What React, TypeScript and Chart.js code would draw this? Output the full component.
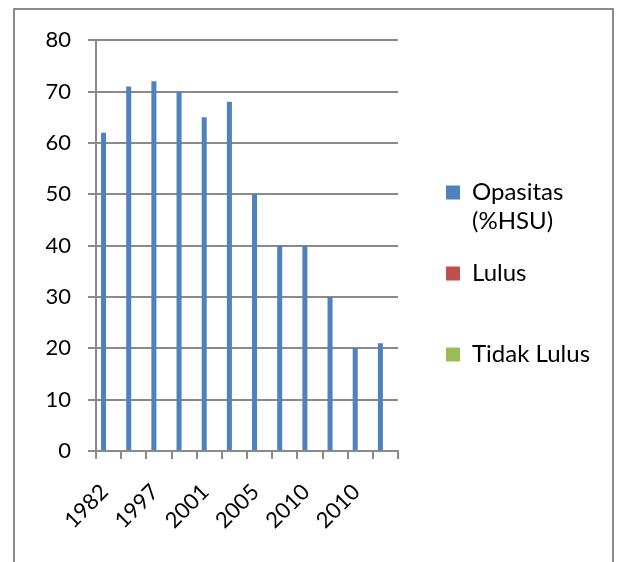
import React, { useEffect, useRef } from 'react';
import { Chart, registerables } from 'chart.js';

Chart.register(...registerables);

// ---- data ----
const years = ['1982', '', '1997', '', '2001', '', '2005', '', '2010', '', '2010', ''];
const opasitas = [62, 71, 72, 70, 65, 68, 50, 40, 40, 30, 20, 21];
const lulus: (number | null)[] = [];
const tidakLulus: (number | null)[] = [];
const seriesNames = ['Opasitas (%HSU)', 'Lulus', 'Tidak Lulus'];
const legendLines = [['Opasitas', '(%HSU)'], ['Lulus', ''], ['Tidak Lulus', '']];
const yMin = 0;
const yMax = 80;
const yStep = 10;

// ---- style ----
const FONT = 'Lato';
const GRID = '#8a8a8a';
const GRID_W = 2;
const COLORS = ['#4F81BD', '#C0504D', '#9BBB59'];
const CANVAS_W = 597;
const CANVAS_H = 552;
const TICK_SIZE = 22;
const LEG_SIZE = 24;
const LEG_PAD = 23;
const LEG_BOX = 14;
const LEG_LEFT = 408;

export default function App() {
  const ref = useRef<HTMLCanvasElement | null>(null);

  useEffect(() => {
    const canvas = ref.current;
    if (!canvas) return;
    const mctx = document.createElement('canvas').getContext('2d')!;
    mctx.font = `${LEG_SIZE}px ${FONT}`;
    const tw = mctx.measureText('Tidak Lulus').width;
    const legendW = LEG_PAD + LEG_BOX + LEG_SIZE / 2 + tw + 10;
    const padRight = Math.max(0, CANVAS_W - LEG_LEFT - legendW);

    const chart = new Chart(canvas, {
      type: 'bar',
      data: {
        labels: years,
        datasets: [
          { label: seriesNames[0], data: opasitas, backgroundColor: COLORS[0], borderWidth: 0 },
          { label: seriesNames[1], data: lulus, backgroundColor: COLORS[1], borderWidth: 0 },
          { label: seriesNames[2], data: tidakLulus, backgroundColor: COLORS[2], borderWidth: 0 },
        ],
      },
      options: {
        responsive: false,
        animation: false,
        events: [],
        datasets: { bar: { categoryPercentage: 0.6, barPercentage: 1.0 } },
        layout: { padding: { left: 0, top: 27, right: padRight, bottom: 18 } },
        plugins: {
          tooltip: { enabled: false },
          title: { display: false },
          legend: {
            position: 'right',
            align: 'center',
            maxWidth: 1000,
            labels: {
              color: '#000',
              font: { family: FONT, size: LEG_SIZE, lineHeight: 29 / LEG_SIZE },
              boxWidth: LEG_BOX,
              boxHeight: LEG_BOX,
              padding: LEG_PAD,
              generateLabels: (c: any) =>
                Chart.defaults.plugins.legend.labels
                  .generateLabels(c)
                  .map((it: any, i: number) => ({ ...it, text: legendLines[i], lineWidth: 0 })),
            },
          },
        },
        scales: {
          x: {
            grid: {
              offset: true,
              drawOnChartArea: false,
              drawTicks: true,
              tickLength: 8,
              color: GRID,
              lineWidth: GRID_W,
            },
            border: { display: true, color: GRID, width: GRID_W },
            ticks: {
              autoSkip: false,
              maxRotation: 45,
              minRotation: 45,
              padding: 20,
              labelOffset: -4,
              color: '#000',
              font: { family: FONT, size: TICK_SIZE },
            },
            afterFit: (s: any) => {
              s.height = CANVAS_H - 18 - 441;
            },
          },
          y: {
            min: yMin,
            max: yMax,
            ticks: {
              stepSize: yStep,
              padding: 17,
              color: '#000',
              font: { family: FONT, size: TICK_SIZE },
            },
            grid: { color: GRID, lineWidth: GRID_W, tickLength: 8, drawTicks: true },
            border: { display: true, color: GRID, width: GRID_W },
            afterFit: (s: any) => {
              s.width = 81;
            },
          },
          gap: {
            type: 'linear',
            position: 'right',
            display: true,
            grid: { display: false },
            border: { display: false },
            ticks: { display: false },
            afterFit: (s: any) => {
              s.width = LEG_LEFT - 383;
            },
          },
        },
      } as any,
    });
    return () => chart.destroy();
  }, []);

  return (
    <div
      style={{
        position: 'fixed',
        left: 13,
        top: 8,
        width: 601,
        height: 600,
        boxSizing: 'border-box',
        border: '2px solid #8a8a8a',
        background: '#fff',
      }}
    >
      <canvas ref={ref} width={CANVAS_W} height={CANVAS_H} style={{ display: 'block' }} />
    </div>
  );
}
